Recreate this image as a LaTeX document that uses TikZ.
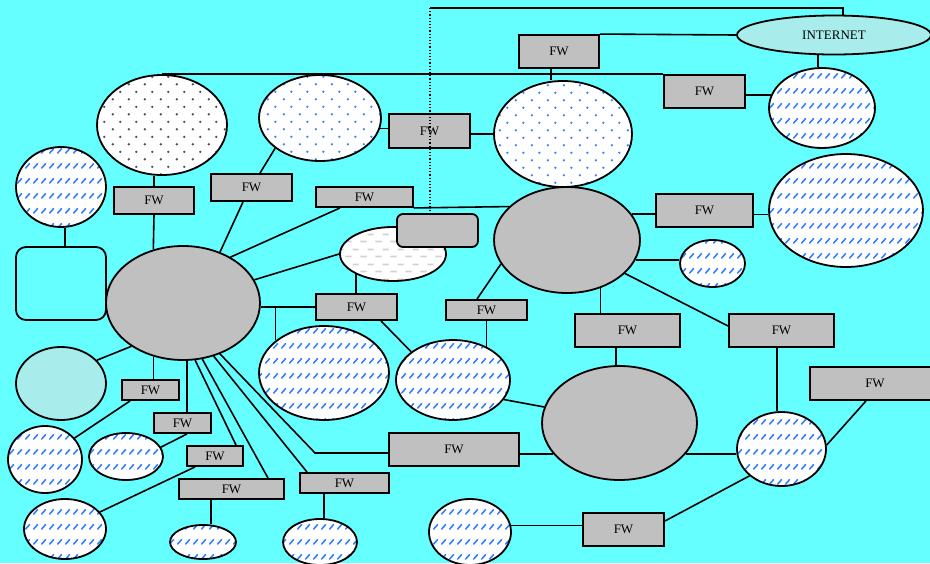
\documentclass[tikz,border=0pt]{standalone}
\usepackage{fontspec}
\setmainfont{Liberation Serif}
\usetikzlibrary{shapes.geometric,patterns,calc}
\definecolor{bg}{RGB}{102,255,255}
\definecolor{fwgrey}{RGB}{192,192,192}
\definecolor{palecyan}{RGB}{168,236,236}
\definecolor{patblue}{RGB}{51,128,255}
\definecolor{dashgrey}{RGB}{210,210,210}
\newcommand\fwfont{\fontsize{13}{15}\selectfont}
\pgfdeclarepatternformonly{bigdots}{\pgfqpoint{0pt}{0pt}}{\pgfqpoint{15.5pt}{15.4pt}}{\pgfqpoint{15.5pt}{15.4pt}}{%
  \pgfpathcircle{\pgfqpoint{3.9pt}{3.85pt}}{1.3pt}%
  \pgfpathcircle{\pgfqpoint{11.65pt}{11.55pt}}{1.3pt}%
  \pgfusepath{fill}}
\pgfdeclarepatternformonly{slashrows}{\pgfqpoint{0pt}{0pt}}{\pgfqpoint{8pt}{15pt}}{\pgfqpoint{8pt}{15pt}}{%
  \pgfsetlinewidth{1.7pt}%
  \pgfsetroundcap
  \pgfpathmoveto{\pgfqpoint{1.8pt}{5.2pt}}\pgfpathlineto{\pgfqpoint{6.2pt}{9.8pt}}%
  \pgfusepath{stroke}}
\pgfdeclarepatternformonly{greydash}{\pgfqpoint{0pt}{0pt}}{\pgfqpoint{15pt}{14.4pt}}{\pgfqpoint{15pt}{14.4pt}}{%
  \pgfsetlinewidth{1.8pt}%
  \pgfpathmoveto{\pgfqpoint{0.5pt}{3.6pt}}\pgfpathlineto{\pgfqpoint{7pt}{3.6pt}}%
  \pgfpathmoveto{\pgfqpoint{8pt}{10.8pt}}\pgfpathlineto{\pgfqpoint{14.5pt}{10.8pt}}%
  \pgfusepath{stroke}}
\begin{document}
\begin{tikzpicture}[x=1pt,y=-1pt,
  every node/.style={inner sep=0pt},
  sz/.style 2 args={minimum width=#1pt, minimum height=#2pt},
  fw/.style={draw, line width=1.9pt, fill=fwgrey, font=\fwfont},
  ell/.style={ellipse, draw, line width=1.8pt},
  hatch/.style={ell, preaction={fill=white}, pattern=slashrows, pattern color=patblue},
  bdots/.style={ell, preaction={fill=white}, pattern=bigdots, pattern color=patblue},
  kdots/.style={ell, preaction={fill=white}, pattern=bigdots, pattern color=black!70},
  gdash/.style={ell, preaction={fill=white}, pattern=greydash, pattern color=dashgrey},
  solidg/.style={ell, fill=fwgrey},
  paleell/.style={ell, fill=palecyan},
  conn/.style={line width=1.6pt}]
\useasboundingbox (0,0) rectangle (930,563);
\fill[bg] (0,0) rectangle (930,563);

% ellipses and rounded boxes
\node[paleell, sz={194}{39}, font=\fwfont] (int) at (834,35) {INTERNET};
\node[kdots, sz={130}{100}] (A) at (162,125) {};
\node[bdots, sz={122}{86}] (B) at (320,118) {};
\node[bdots, sz={138}{106}] (C) at (563,134) {};
\node[hatch, sz={106}{80}] (D) at (822,108) {};
\node[hatch, sz={90}{80}] (E) at (61,187) {};
\node[draw, line width=1.8pt, rounded corners=10pt, fill=bg, sz={90}{73}] (F) at (61,283.5) {};
\node[solidg, sz={154}{114}] (G) at (183,303) {};
\node[gdash, sz={106}{54}] (H) at (393,254) {};
\node[draw, line width=1.8pt, rounded corners=6pt, fill=fwgrey, sz={81}{33}] (box) at (437.5,230.5) {};
\node[solidg, sz={146}{106}] (I) at (567,240) {};
\node[hatch, sz={154}{113}] (J) at (846,210.5) {};
\node[hatch, sz={65}{47}] (K) at (712.5,263.5) {};
\node[paleell, sz={90}{73}] (L) at (61,383.5) {};
\node[hatch, sz={130}{94}] (M) at (324,373) {};
\node[hatch, sz={114}{80}] (N) at (453,380) {};
\node[solidg, sz={155}{114}] (O) at (619.5,423) {};
\node[hatch, sz={89}{74}] (P) at (781.5,449) {};
\node[hatch, sz={74}{67}] (Q) at (45,459.5) {};
\node[hatch, sz={74}{47}] (Rr) at (126,456.5) {};
\node[hatch, sz={82}{60}] (S) at (65,529) {};
\node[hatch, sz={66}{34}] (T) at (203,542) {};
\node[hatch, sz={74}{46}] (U) at (320,542) {};
\node[hatch, sz={82}{66}] (V) at (470,532) {};

% firewalls
\node[fw, sz={80}{33}] (fw1) at (559,51.5) {FW};
\node[fw, sz={81}{33}] (fw2) at (704.5,91.5) {FW};
\node[fw, sz={81}{34}] (fw3) at (429.5,131) {FW};
\node[fw, sz={80}{27}] (fw4) at (154,200.5) {FW};
\node[fw, sz={81}{27}] (fw5) at (251.5,187.5) {FW};
\node[fw, sz={97}{20}] (fw6) at (364.5,197) {FW};
\node[fw, sz={97}{33}] (fw7) at (704.5,210.5) {FW};
\node[fw, sz={81}{26}] (fw8) at (356.5,307) {FW};
\node[fw, sz={81}{20}] (fw9) at (486.5,310) {FW};
\node[fw, sz={105}{33}] (fw10) at (627.5,330.5) {FW};
\node[fw, sz={105}{33}] (fw11) at (781.5,330.5) {FW};
\node[fw, sz={130}{33}] (fw12) at (875,383.5) {FW};
\node[fw, sz={57}{20}] (fw13) at (150.5,390) {FW};
\node[fw, sz={57}{20}] (fw14) at (182.5,423) {FW};
\node[fw, sz={56}{20}] (fw15) at (215,456) {FW};
\node[fw, sz={105}{20}] (fw16) at (231.5,489) {FW};
\node[fw, sz={89}{20}] (fw17) at (344.5,483) {FW};
\node[fw, sz={130}{33}] (fw18) at (454,449.5) {FW};
\node[fw, sz={81}{33}] (fw19) at (623.5,529.5) {FW};

% connectors
\coordinate (top) at (430,8);
\draw[conn] (top) -| ([xshift=9pt]int.north);
\draw[conn] (fw1.north east) -- (int.west);
\draw[conn] ([xshift=-8pt]fw1.south) -- ([xshift=-8pt]fw1.south |- C.north);
\draw[conn] (A.north) -- (A.north -| fw2.west);
\draw[conn] ([xshift=-4pt]D.north) -- ([xshift=-4pt]D.north |- int.south);
\draw[conn] (D.166) -- (D.166 -| fw2.east);
\draw[conn] (B.350) -- (B.350 -| fw3.west);
\draw[conn] (fw3.east |- C.west) -- (C.west);
\draw[conn] (A.south -| fw4.north) -- (fw4.north);
\draw[conn] (fw4.south) -- (G.119);
\draw[conn] ([xshift=4pt]E.south) -- ([xshift=4pt]F.north);
\draw[conn] (B.214) -- ([xshift=8.5pt]fw5.north);
\draw[conn] ([xshift=-8.5pt]fw5.south) -- (G.54);
\draw[conn] ([xshift=-24.5pt]fw6.south) -- (G.44);
\draw[conn] (fw6.south east) -- (I.150);
\draw[conn] (G.18) -- (H.west);
\draw[conn] (H.209) -- (H.209 |- fw8.north);
\draw[conn] (G.east |- fw8.west) -- (fw8.west);
\draw[conn] (M.146) -- (M.146 |- fw8.west);
\draw[conn] ([xshift=24.5pt]fw8.south) -- (N.146);
\draw[conn] ([xshift=-9.5pt]fw9.north) -- (I.200);
\draw[conn] (N.45) -- (N.45 |- fw9.south);
\draw[conn] (I.22) -- (I.22 -| fw7.west);
\draw[conn] (J.183) -- (J.183 -| fw7.east);
\draw[conn] (I.344) -- (I.344 -| K.west);
\draw[conn] (I.305) -- (I.305 |- fw10.north);
\draw[conn] (I.330) -- ([yshift=4.5pt]fw11.west);
\draw[conn] ([xshift=-11.5pt]fw10.south) -- ([xshift=-11.5pt]fw10.south |- O.north);
\draw[conn] ([xshift=-4.5pt]fw11.south) -- ([xshift=-4.5pt]fw11.south |- P.north);
\draw[conn] ([xshift=-9pt]fw12.south) -- (P.5);
\draw[conn] (O.335) -- (O.335 -| P.west);
\draw[conn] (O.205) -- (O.205 -| fw18.east);
\draw[conn] (N.339) -- (O.168);
\draw[conn] (V.9) -- (V.9 -| fw19.west);
\draw[conn] ([yshift=8.5pt]fw19.east) -- (P.220);
\draw[conn] (G.220) -- (L.33);
\draw[conn] (G.241) -- (G.241 |- fw13.north);
\draw[conn] ([xshift=-20.5pt]fw13.south) -- (Q.36);
\draw[conn] (G.274) -- (G.274 |- fw14.north);
\draw[conn] ([xshift=4.5pt]fw14.south) -- (Rr.15);
\draw[conn] (G.282) -- ([xshift=21pt]fw15.north);
\draw[conn] ([xshift=-20pt]fw15.south) -- (S.26);
\draw[conn] (G.289) -- ([xshift=36.5pt]fw16.north);
\draw[conn] ([xshift=-20.5pt]fw16.south) -- ([xshift=-20.5pt]fw16.south |- T.north);
\draw[conn] (G.300) -- ([xshift=-37.5pt]fw17.north);
\draw[conn] (G.306) -- ([xshift=-73pt,yshift=-3.5pt]fw18.west) -- ([yshift=-3.5pt]fw18.west);
\draw[conn] ([xshift=-20.5pt]fw17.south) -- ([xshift=-20.5pt]fw17.south |- U.north);
\draw[line width=1.6pt, dash pattern=on 1.2pt off 2pt] (top) -- (top |- box.north);
\end{tikzpicture}
\end{document}
